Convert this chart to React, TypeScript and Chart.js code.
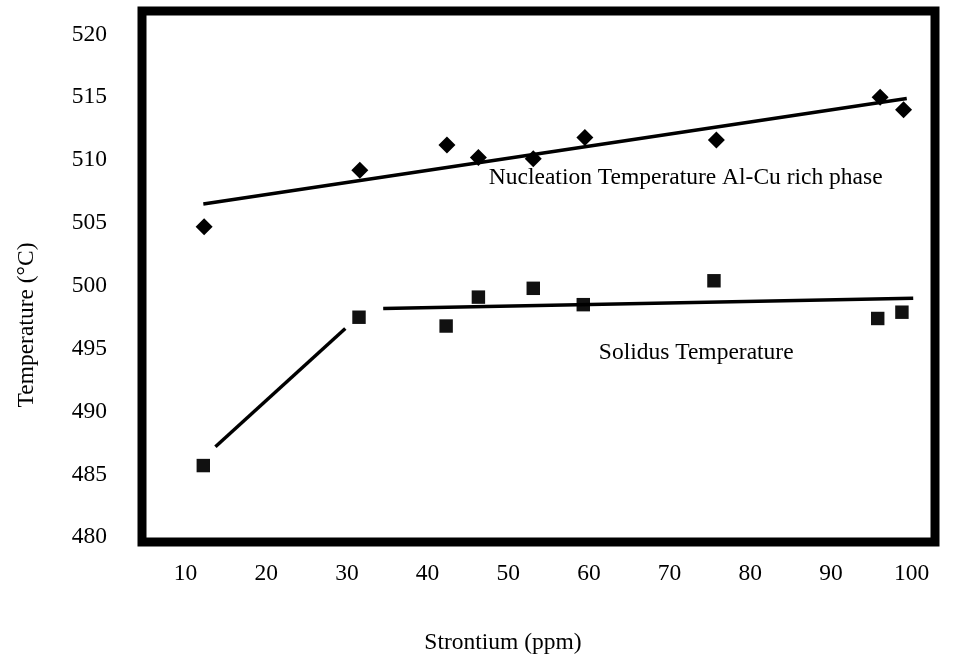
import React, { useEffect, useRef } from "react";
import { Chart, registerables } from "chart.js";

Chart.register(...registerables);

// Strontium (ppm) and temperature (°C) readings
const srNucleation = [12.3, 31.6, 42.4, 46.3, 53.1, 59.5, 75.8, 96.1, 99.0];
const tNucleation = [504.7, 509.2, 511.2, 510.2, 510.1, 511.8, 511.6, 515.0, 514.0];
const srSolidus = [12.2, 31.5, 42.3, 46.3, 53.1, 59.3, 75.5, 95.8, 98.8];
const tSolidus = [485.7, 497.5, 496.8, 499.1, 499.8, 498.5, 500.4, 497.4, 497.9];

// Trend lines
const nucleationFitX = [12.2, 99.4];
const nucleationFitY = [506.5, 514.9];
const solidusFit1X = [13.7, 29.8];
const solidusFit1Y = [487.2, 496.6];
const solidusFit2X = [34.5, 100.2];
const solidusFit2Y = [498.2, 499.0];

// Ticks
const xTickValues = [10, 20, 30, 40, 50, 60, 70, 80, 90, 100];
const yTickValues = [480, 485, 490, 495, 500, 505, 510, 515, 520];

// Annotation labels (data coordinates)
const annotationTexts = ["Nucleation Temperature Al-Cu rich phase", "Solidus Temperature"];
const annotationX = [72.0, 73.3];
const annotationY = [508.6, 494.7];

const xTitle = "Strontium (ppm)";
const yTitle = "Temperature (°C)";

const FONT = "'Liberation Serif', 'Times New Roman', serif";
const FS = 23.5;

function pts(xs: number[], ys: number[]) {
  return xs.map((x, i) => ({ x, y: ys[i] }));
}

const framePlugin = {
  id: "frameAndText",
  afterDraw(chart: any) {
    const { ctx, chartArea, scales } = chart;
    ctx.save();
    ctx.strokeStyle = "#000";
    ctx.lineWidth = 9;
    ctx.strokeRect(
      chartArea.left,
      chartArea.top,
      chartArea.right - chartArea.left,
      chartArea.bottom - chartArea.top
    );
    ctx.fillStyle = "#000";
    ctx.font = `${FS}px ${FONT}`;
    ctx.textAlign = "center";
    ctx.textBaseline = "middle";
    annotationTexts.forEach((t, i) => {
      ctx.fillText(t, scales.x.getPixelForValue(annotationX[i]), scales.y.getPixelForValue(annotationY[i]));
    });
    ctx.fillText(xTitle, 503, 643);
    ctx.translate(27, 325);
    ctx.rotate(-Math.PI / 2);
    ctx.fillText(yTitle, 0, 0);
    ctx.restore();
  },
};

export default function App() {
  const ref = useRef<HTMLCanvasElement>(null);
  useEffect(() => {
    if (!ref.current) return;
    const lineStyle = {
      type: "line" as const,
      borderColor: "#000",
      borderWidth: 3.5,
      pointRadius: 0,
      showLine: true,
      fill: false,
    };
    const chart = new Chart(ref.current, {
      type: "scatter",
      data: {
        datasets: [
          { ...lineStyle, label: "Nucleation fit", data: pts(nucleationFitX, nucleationFitY) },
          { ...lineStyle, label: "Solidus fit 1", data: pts(solidusFit1X, solidusFit1Y) },
          { ...lineStyle, label: "Solidus fit 2", data: pts(solidusFit2X, solidusFit2Y) },
          {
            label: "Nucleation Temperature Al-Cu rich phase",
            data: pts(srNucleation, tNucleation),
            pointStyle: "rectRot",
            pointRadius: 8.5,
            backgroundColor: "#000",
            borderColor: "#000",
            borderWidth: 0,
          },
          {
            label: "Solidus Temperature",
            data: pts(srSolidus, tSolidus),
            pointStyle: "rect",
            pointRadius: 9.5,
            backgroundColor: "#111",
            borderColor: "#111",
            borderWidth: 0,
          },
        ],
      },
      options: {
        animation: false,
        responsive: false,
        devicePixelRatio: 1,
        layout: { autoPadding: false, padding: { top: 11, right: 23, left: 0, bottom: 0 } },
        plugins: { legend: { display: false }, tooltip: { enabled: false } },
        scales: {
          x: {
            type: "linear",
            min: 4.6,
            max: 102.9,
            grid: { display: false, drawTicks: false },
            border: { display: false },
            afterBuildTicks: (s: any) => {
              s.ticks = xTickValues.map((v) => ({ value: v }));
            },
            afterFit: (s: any) => {
              s.height = 121;
              s.paddingLeft = 0;
              s.paddingRight = 0;
            },
            ticks: {
              color: "#000",
              padding: 18,
              maxRotation: 0,
              autoSkip: false,
              font: { family: FONT, size: FS },
              callback: (v: any) => String(v),
            },
          },
          y: {
            type: "linear",
            min: 479.62,
            max: 521.86,
            grid: { display: false, drawTicks: false },
            border: { display: false },
            afterBuildTicks: (s: any) => {
              s.ticks = yTickValues.map((v) => ({ value: v }));
            },
            afterFit: (s: any) => {
              s.width = 142;
              s.paddingTop = 0;
              s.paddingBottom = 0;
            },
            ticks: {
              color: "#000",
              padding: 35,
              autoSkip: false,
              font: { family: FONT, size: FS },
              callback: (v: any) => String(v),
            },
          },
        },
      },
      plugins: [framePlugin],
    });
    return () => chart.destroy();
  }, []);
  return (
    <div style={{ position: "absolute", left: 0, top: 0, width: 958, height: 663, background: "#fff" }}>
      <canvas ref={ref} width={958} height={663} />
    </div>
  );
}
